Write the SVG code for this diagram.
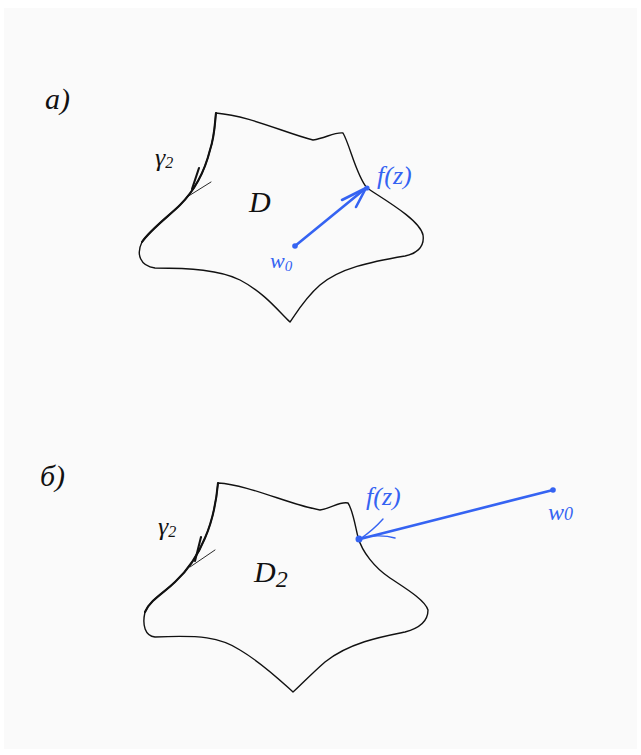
<svg xmlns="http://www.w3.org/2000/svg" width="641" height="755" viewBox="0 0 641 755">
<style>
.shape{fill:none;stroke:#111;stroke-width:1.4;stroke-linejoin:round;stroke-linecap:round}
.tick{fill:none;stroke:#111;stroke-width:0.9;stroke-linecap:round}
.bold{fill:none;stroke:#111;stroke-width:2.1;stroke-linecap:round}
.blue{fill:none;stroke:#3563f2;stroke-width:2.6;stroke-linecap:round;stroke-linejoin:round}
.bluethin{fill:none;stroke:#3563f2;stroke-width:1.4;stroke-linecap:round}
.dot{fill:#3563f2}
.lbl{font-family:"Liberation Serif",serif;font-style:italic;fill:#111}
.blbl{font-family:"Liberation Serif",serif;font-style:italic;fill:#3563f2}
</style>
<rect x="0" y="0" width="641" height="755" fill="#ffffff"/>
<rect x="4" y="8" width="633" height="741" fill="#fafafa"/>
<g id="label-a"><text class="lbl" x="45" y="109" font-size="30">a)</text></g>
<g id="domain-D">
<path class="shape" d="M216,113 C250,116 285,133 313,140 C326,138 334,132 343,133 C350,145 356,175 367,188 C385,200 420,220 423,235 C425,248 415,254 405,256 C370,262 340,268 320,285 C305,298 295,315 290,322 C280,313 265,293 240,280 C220,270 190,268 155,268 C140,266 136,254 142,242 C150,230 170,215 180,205 C195,190 205,170 210,150 C215,135 215,120 216,113 Z"/>
<path class="bold" d="M216,113 C215,120 215,135 210,150 C205,170 195,190 180,205 C170,215 150,230 142,242"/>
<line class="bold" x1="199" y1="168" x2="192" y2="189"/>
<line class="tick" x1="211" y1="182" x2="187" y2="197"/>
<text class="lbl" x="155" y="166" font-size="26">γ<tspan font-size="16" dy="2">2</tspan></text>
<text class="lbl" x="249" y="212" font-size="30">D</text>
</g>
<g id="label-b"><text class="lbl" x="40" y="486" font-size="30">б)</text></g>
<g id="domain-D2">
<path class="shape" d="M218,483 C250,485 290,505 320,510 C332,508 340,501 348,503 C353,510 356,530 358,537 C362,552 375,568 390,578 C405,588 425,600 428,610 C428,620 420,628 405,632 C385,636 350,642 325,662 C310,675 298,688 293,692 C285,685 265,665 240,650 C220,637 200,635 155,637 C145,636 142,625 145,612 C150,600 165,592 175,582 C188,570 198,555 205,538 C212,522 216,505 218,483 Z"/>
<path class="bold" d="M218,483 C216,505 212,522 205,538 C198,555 188,570 175,582 C165,592 150,600 145,612"/>
<line class="bold" x1="201" y1="537" x2="195" y2="561"/>
<line class="tick" x1="215" y1="550" x2="190" y2="567"/>
<text class="lbl" x="158" y="535" font-size="26">γ<tspan font-size="16" dy="2">2</tspan></text>
<text class="lbl" x="254" y="582" font-size="30">D<tspan font-size="24" dy="5">2</tspan></text>
</g>
<g id="connectors">
<g id="arrow-a">
<line class="blue" x1="295" y1="246" x2="366" y2="188"/>
<path class="blue" d="M342,200 L366,188 L356,207"/>
<circle class="dot" cx="295" cy="246" r="2.8"/>
<circle class="dot" cx="367" cy="188" r="2.6"/>
</g>
<g id="arrow-b">
<line class="blue" x1="553" y1="490" x2="360" y2="539"/>
<path class="bluethin" d="M383,519 C375,528 366,535 360,539 C370,535 385,535 395,538"/>
<circle class="dot" cx="553" cy="490" r="2.8"/>
<circle class="dot" cx="359" cy="539" r="3.5"/>
</g>
</g>
<g id="labels-blue">
<text class="blbl" x="377" y="184" font-size="26">f(z)</text>
<text class="blbl" x="270" y="268" font-size="22">w<tspan font-size="15" dy="3">0</tspan></text>
<text class="blbl" x="366" y="505" font-size="26">f(z)</text>
<text class="blbl" x="548" y="520" font-size="24">w<tspan font-size="18">0</tspan></text>
</g>
</svg>
